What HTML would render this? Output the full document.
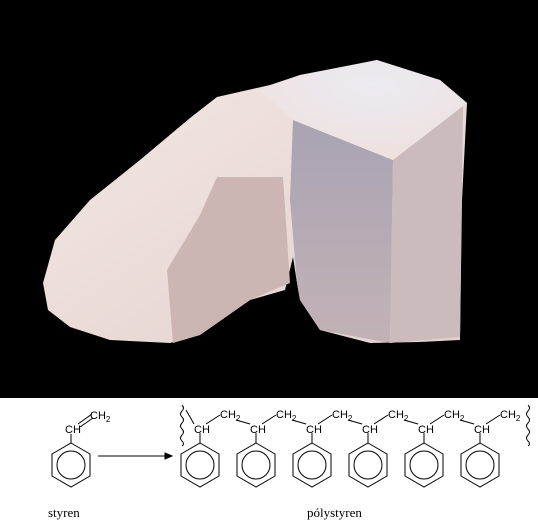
<!DOCTYPE html>
<html><head><meta charset="utf-8"><style>
html,body{margin:0;padding:0;background:#fff}
svg{display:block}
text{font-family:"Liberation Sans",sans-serif}
.s{font-family:"Liberation Serif",serif;font-size:13px}
</style></head><body>
<svg width="538" height="525" viewBox="0 0 538 525">
<defs>
<radialGradient id="top" cx="0.55" cy="0.25" r="0.8"><stop offset="0" stop-color="#eceaf2"/><stop offset="1" stop-color="#eee0dc"/></radialGradient>
<linearGradient id="arm" x1="0" y1="0" x2="1" y2="1"><stop offset="0" stop-color="#f4e8e4"/><stop offset="1" stop-color="#e2d0cd"/></linearGradient>
<linearGradient id="front" x1="0" y1="0" x2="0" y2="1"><stop offset="0" stop-color="#a9a3b3"/><stop offset="1" stop-color="#c2b2b6"/></linearGradient>
</defs>
<rect x="0" y="0" width="538" height="398" fill="#000"/>
<g>
<path d="M43,283 L55,240 L90,200 L140,160 L190,118 L217,97 L270,85 L300,75 L340,68 L377,60 L400,70 L440,80 L467,103 L462,200 L460,340 L420,342 L370,343 L320,330 L300,300 L297,283 L293,257 L285,290 L250,300 L200,335 L170,343 L110,340 L70,327 L48,310 Z" fill="url(#arm)"/>
<path d="M173,343 L167,270 L200,215 L217,177 L283,177 L290,283 L250,300 L200,335 Z" fill="#ccb6b4"/>
<path d="M293,120 L393,160 L390,343 L320,330 L300,300 L297,283 L290,200 Z" fill="url(#front)"/>
<path d="M393,160 L463,103 L460,337 L390,343 Z" fill="#cbbbbc"/>
<path d="M260,90 L300,75 L377,60 L440,80 L467,103 L393,160 L293,120 Z" fill="url(#top)"/>
</g>
<g fill="none" stroke="#000" stroke-width="1">
<g>
<polygon points="71,443 90,454 90,476 71,487 52,476 52,454"/>
<circle cx="71" cy="465" r="14"/>
<line x1="71" y1="443" x2="71" y2="434"/>
<line x1="78" y1="424" x2="92" y2="414"/><line x1="80" y1="427" x2="93" y2="418"/>
</g>
<g>
<line x1="98" y1="456" x2="166" y2="456"/>
<polygon points="172,456 165,453 165,459" fill="#000"/>
</g>
<path d="M182,405 q3,3 0,6 q-3,3 0,6 q3,3 0,6 q-3,3 0,6 q3,3 0,6 q-3,3 0,6 q3,3 0,5"/>
<path d="M528,405 q3,3 0,6 q-3,3 0,6 q3,3 0,6 q-3,3 0,6 q3,3 0,6 q-3,3 0,6 q3,3 0,5"/>
<g id="units"></g>
</g>
<g fill="#000" font-size="11">
<text x="65" y="433">CH</text><text x="90" y="419">CH<tspan font-size="8" dy="3">2</tspan></text>
<text class="s" x="48" y="517">styren</text>
<text class="s" x="307" y="517">pólystyren</text>
</g>
<g id="unitlabels" font-size="11" fill="#000"></g>
</svg>
<script>
const unitCount = 6;
const ns="http://www.w3.org/2000/svg";
const g=document.getElementById('units'), gl=document.getElementById('unitlabels');
function mk(t,a,p){const e=document.createElementNS(ns,t);for(const k in a)e.setAttribute(k,a[k]);p.appendChild(e);return e;}
for(let i=0;i<unitCount;i++){
  const cx=200+i*56, cy=465;
  const hex=mk('polygon',{points:`${cx},${cy-22} ${cx+19},${cy-11} ${cx+19},${cy+11} ${cx},${cy+22} ${cx-19},${cy+11} ${cx-19},${cy-11}`},g);
  
  
  mk('circle',{cx:cx,cy:cy,r:14},g);
  mk('line',{x1:cx,y1:cy-22,x2:cx,y2:cy-32},g);
  mk('line',{x1:i===0?186:cx-20,y1:i===0?410:420,x2:cx-6,y2:424},g);
  mk('line',{x1:cx+6,y1:424,x2:cx+20,y2:415},g);
  const t=mk('text',{x:cx-6,y:433},gl); t.textContent='CH';
  
  
  const t2=mk('text',{x:cx+20,y:418},gl); t2.innerHTML='CH<tspan font-size="8" dy="3">2</tspan>';
  
  
}
</script>
</body></html>
